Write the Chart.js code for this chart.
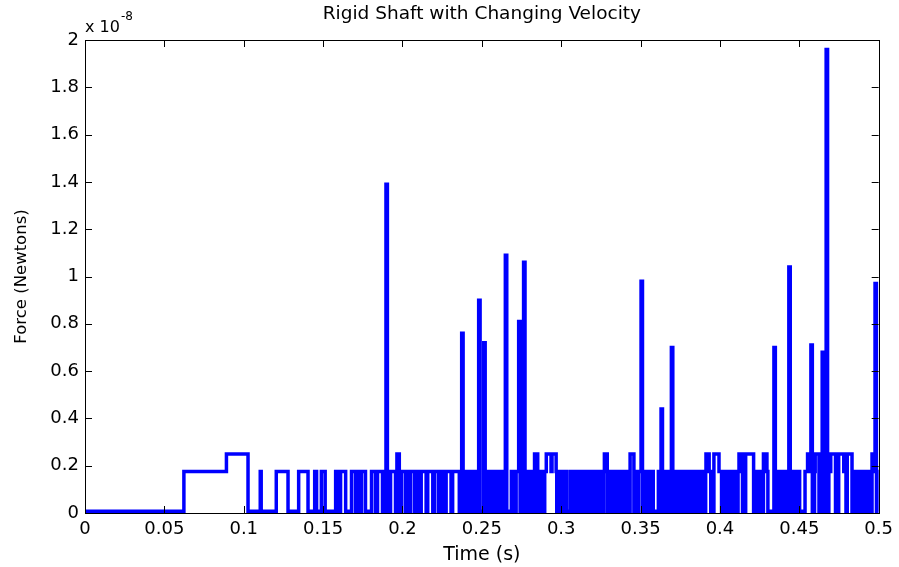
<!DOCTYPE html>
<html>
<head>
<meta charset="utf-8">
<title>Rigid Shaft with Changing Velocity</title>
<script src="https://cdn.jsdelivr.net/npm/chart.js@4.4.1/dist/chart.umd.min.js"></script>
<style>
    html, body { margin: 0; padding: 0; background: #fff; }
    canvas { display: block; }
</style>
</head>
<body>
<canvas id="chart" width="899" height="567"></canvas>
<script>
// force is in units of 1e-8 N, time in s
const baseLevel = 0.007;
const midLevel = 0.175;
const highLevel = 0.25;

// [start, end] of each pulse up to the 0.175 level
const midPulses = [
    [0.0623, 0.0891], [0.1104, 0.1110], [0.1205, 0.1279], [0.1346, 0.1405], [0.1447, 0.1459],
    [0.1489, 0.1513], [0.1579, 0.1591], [0.1610, 0.1642], [0.1679, 0.1704], [0.1717, 0.1736],
    [0.1742, 0.1767], [0.1805, 0.1830], [0.1843, 0.1874], [0.1925, 0.1956], [0.1994, 0.2019],
    [0.2025, 0.2044], [0.2050, 0.2075], [0.2086, 0.2107], [0.2118, 0.2149], [0.2159, 0.2191],
    [0.2201, 0.2226], [0.2233, 0.2254], [0.2275, 0.2306], [0.2316, 0.2358],
    [0.2398, 0.2414], [0.2428, 0.2444], [0.2458, 0.2474], [0.2522, 0.2538], [0.2552, 0.2568],
    [0.2582, 0.2598], [0.2612, 0.2628], [0.2638, 0.2648], [0.2686, 0.2702], [0.2716, 0.2732],
    [0.2744, 0.2756], [0.2776, 0.2792], [0.2806, 0.2822], [0.2836, 0.2852], [0.2866, 0.2882],
    [0.2896, 0.2912], [0.2926, 0.2942], [0.2956, 0.2972], [0.2988, 0.3004], [0.3018, 0.3034],
    [0.3057, 0.3073], [0.3087, 0.3103], [0.3117, 0.3133], [0.3147, 0.3163], [0.3177, 0.3193],
    [0.3207, 0.3223], [0.3237, 0.3253], [0.3267, 0.3283], [0.3297, 0.3313], [0.3327, 0.3343],
    [0.3352, 0.3362], [0.3372, 0.3388], [0.3402, 0.3418], [0.3460, 0.3476], [0.3488, 0.3503],
    [0.3516, 0.3532], [0.3546, 0.3562], [0.3570, 0.3580], [0.3612, 0.3628], [0.3640, 0.3648],
    [0.3664, 0.3680], [0.3706, 0.3722], [0.3736, 0.3752], [0.3762, 0.3774], [0.3790, 0.3806],
    [0.3820, 0.3836], [0.3850, 0.3866], [0.3880, 0.3896], [0.3910, 0.3926], [0.3932, 0.3942],
    [0.3964, 0.3980], [0.3994, 0.4010], [0.4024, 0.4040], [0.4054, 0.4070], [0.4084, 0.4100],
    [0.4114, 0.4130], [0.4144, 0.4160], [0.4196, 0.4212], [0.4226, 0.4242], [0.4256, 0.4272],
    [0.4286, 0.4302], [0.4352, 0.4368], [0.4382, 0.4398], [0.4412, 0.4428], [0.4456, 0.4472],
    [0.4486, 0.4502], [0.4536, 0.4552], [0.4566, 0.4582], [0.4596, 0.4612], [0.4626, 0.4642],
    [0.4656, 0.4672], [0.4686, 0.4702], [0.4712, 0.4726], [0.4748, 0.4764], [0.4778, 0.4794],
    [0.4808, 0.4824], [0.4838, 0.4854], [0.4868, 0.4884], [0.4906, 0.4922], [0.4936, 0.4952],
    [0.4966, 0.4982], [0.4990, 0.5000],
];

// [start, end] of each pulse up to the 0.25 level
const highPulses = [
    [0.0891, 0.1027], [0.1965, 0.1980], [0.2832, 0.2852], [0.2906, 0.2936], [0.2942, 0.2968],
    [0.3272, 0.3290], [0.3434, 0.3458], [0.3912, 0.3932], [0.3962, 0.3994], [0.4120, 0.4142],
    [0.4162, 0.4212], [0.4274, 0.4296], [0.4552, 0.4572], [0.4600, 0.4624], [0.4698, 0.4728],
    [0.4748, 0.4780], [0.4802, 0.4832], [0.4958, 0.4976],
];

// tall narrow spikes
const spikeTimes = [
    0.1896, 0.2373, 0.2480, 0.2512, 0.2648, 0.2732, 0.2763, 0.3503,
    0.3629, 0.3694, 0.4340, 0.4434, 0.4573, 0.4644, 0.4669, 0.4977,
];
const spikeHeights = [
    1.39, 0.76, 0.90, 0.72, 1.09, 0.81, 1.06, 0.98,
    0.44, 0.70, 0.70, 1.04, 0.71, 0.68, 1.96, 0.97,
];
const spikeWidth = 0.0009;

const xTicks = [0, 0.05, 0.1, 0.15, 0.2, 0.25, 0.3, 0.35, 0.4, 0.45, 0.5];
const xTickLabels = ['0', '0.05', '0.1', '0.15', '0.2', '0.25', '0.3', '0.35', '0.4', '0.45', '0.5'];
const yTicks = [0, 0.2, 0.4, 0.6, 0.8, 1, 1.2, 1.4, 1.6, 1.8, 2];
const yTickLabels = ['0', '0.2', '0.4', '0.6', '0.8', '1', '1.2', '1.4', '1.6', '1.8', '2'];

const FONT = 'DejaVu Sans';
const TICK_LEN = 7;

const spikeEnds = spikeTimes.map((s) => +(s + spikeWidth).toFixed(5));

function levelAt(t) {
    let v = baseLevel;
    midPulses.forEach(([on, off]) => {
        if (t >= on && t < off) v = Math.max(v, midLevel);
    });
    highPulses.forEach(([on, off]) => {
        if (t >= on && t < off) v = Math.max(v, highLevel);
    });
    spikeTimes.forEach((s, i) => {
        if (t >= s && t < spikeEnds[i]) v = Math.max(v, spikeHeights[i]);
    });
    return v;
}

function buildPoints() {
    const edges = new Set([0, 0.5, ...spikeTimes, ...spikeEnds]);
    midPulses.concat(highPulses).forEach(([on, off]) => {
        edges.add(on);
        edges.add(off);
    });
    return [...edges]
        .filter((t) => t <= 0.5)
        .sort((a, b) => a - b)
        .map((t) => ({ x: t, y: levelAt(t) }));
}

// MATLAB style box with inward ticks, exponent note and title
const matlabFrame = {
    id: 'matlabFrame',
    afterDatasetsDraw(chart) {
        const { ctx, chartArea: a } = chart;
        const x = chart.scales.x;
        const y = chart.scales.y;
        ctx.save();
        ctx.strokeStyle = '#000';
        ctx.lineWidth = 1;
        ctx.beginPath();
        xTicks.forEach((v) => {
            const px = Math.round(x.getPixelForValue(v)) + 0.5;
            ctx.moveTo(px, a.bottom);
            ctx.lineTo(px, a.bottom - TICK_LEN);
            ctx.moveTo(px, a.top);
            ctx.lineTo(px, a.top + TICK_LEN);
        });
        yTicks.forEach((v) => {
            const py = Math.round(y.getPixelForValue(v)) + 0.5;
            ctx.moveTo(a.left, py);
            ctx.lineTo(a.left + TICK_LEN, py);
            ctx.moveTo(a.right, py);
            ctx.lineTo(a.right - TICK_LEN, py);
        });
        ctx.stroke();
        ctx.strokeRect(Math.round(a.left) + 0.5, Math.round(a.top) + 0.5,
            Math.round(a.right - a.left), Math.round(a.bottom - a.top));

        ctx.fillStyle = '#000';
        ctx.textBaseline = 'alphabetic';
        ctx.textAlign = 'left';
        ctx.font = `16px ${FONT}`;
        ctx.fillText('x 10', a.left, 32);
        const w = ctx.measureText('x 10').width;
        ctx.font = `12px ${FONT}`;
        ctx.fillText('-8', a.left + w + 1, 20);

        ctx.font = `18.5px ${FONT}`;
        ctx.textAlign = 'center';
        ctx.textBaseline = 'middle';
        ctx.fillText('Rigid Shaft with Changing Velocity', (a.left + a.right) / 2, 14);
        ctx.restore();
    },
};

new Chart(document.getElementById('chart'), {
    type: 'line',
    data: {
        datasets: [
            {
                label: 'Force',
                data: buildPoints(),
                borderColor: '#0000ff',
                borderWidth: 3.5,
                pointRadius: 0,
                stepped: true,
                fill: false,
                tension: 0,
            },
        ],
    },
    options: {
        responsive: false,
        animation: false,
        devicePixelRatio: 1,
        layout: { padding: { left: 0, right: 19, top: 40, bottom: 0 } },
        plugins: {
            legend: { display: false },
            tooltip: { enabled: false },
            title: { display: false },
        },
        scales: {
            x: {
                type: 'linear',
                min: 0,
                max: 0.5,
                afterBuildTicks: (s) => { s.ticks = xTicks.map((v) => ({ value: v })); },
                afterFit: (s) => { s.height = 54; },
                grid: { display: false, drawTicks: false },
                border: { display: false },
                ticks: {
                    color: '#000',
                    padding: 6,
                    maxRotation: 0,
                    autoSkip: false,
                    font: { family: FONT, size: 18 },
                    callback: (v, i) => xTickLabels[i],
                },
                title: {
                    display: true,
                    text: 'Time (s)',
                    color: '#000',
                    font: { family: FONT, size: 19 },
                    padding: { top: 0, bottom: 1 },
                },
            },
            y: {
                min: 0,
                max: 2,
                afterBuildTicks: (s) => { s.ticks = yTicks.map((v) => ({ value: v })); },
                afterFit: (s) => { s.width = 85; },
                grid: { display: false, drawTicks: false },
                border: { display: false },
                ticks: {
                    color: '#000',
                    padding: 6,
                    autoSkip: false,
                    font: { family: FONT, size: 18 },
                    callback: (v, i) => yTickLabels[i],
                },
                title: {
                    display: true,
                    text: 'Force (Newtons)',
                    color: '#000',
                    font: { family: FONT, size: 16.5 },
                    padding: { top: 12, bottom: 0 },
                },
            },
        },
    },
    plugins: [matlabFrame],
});
</script>
</body>
</html>
